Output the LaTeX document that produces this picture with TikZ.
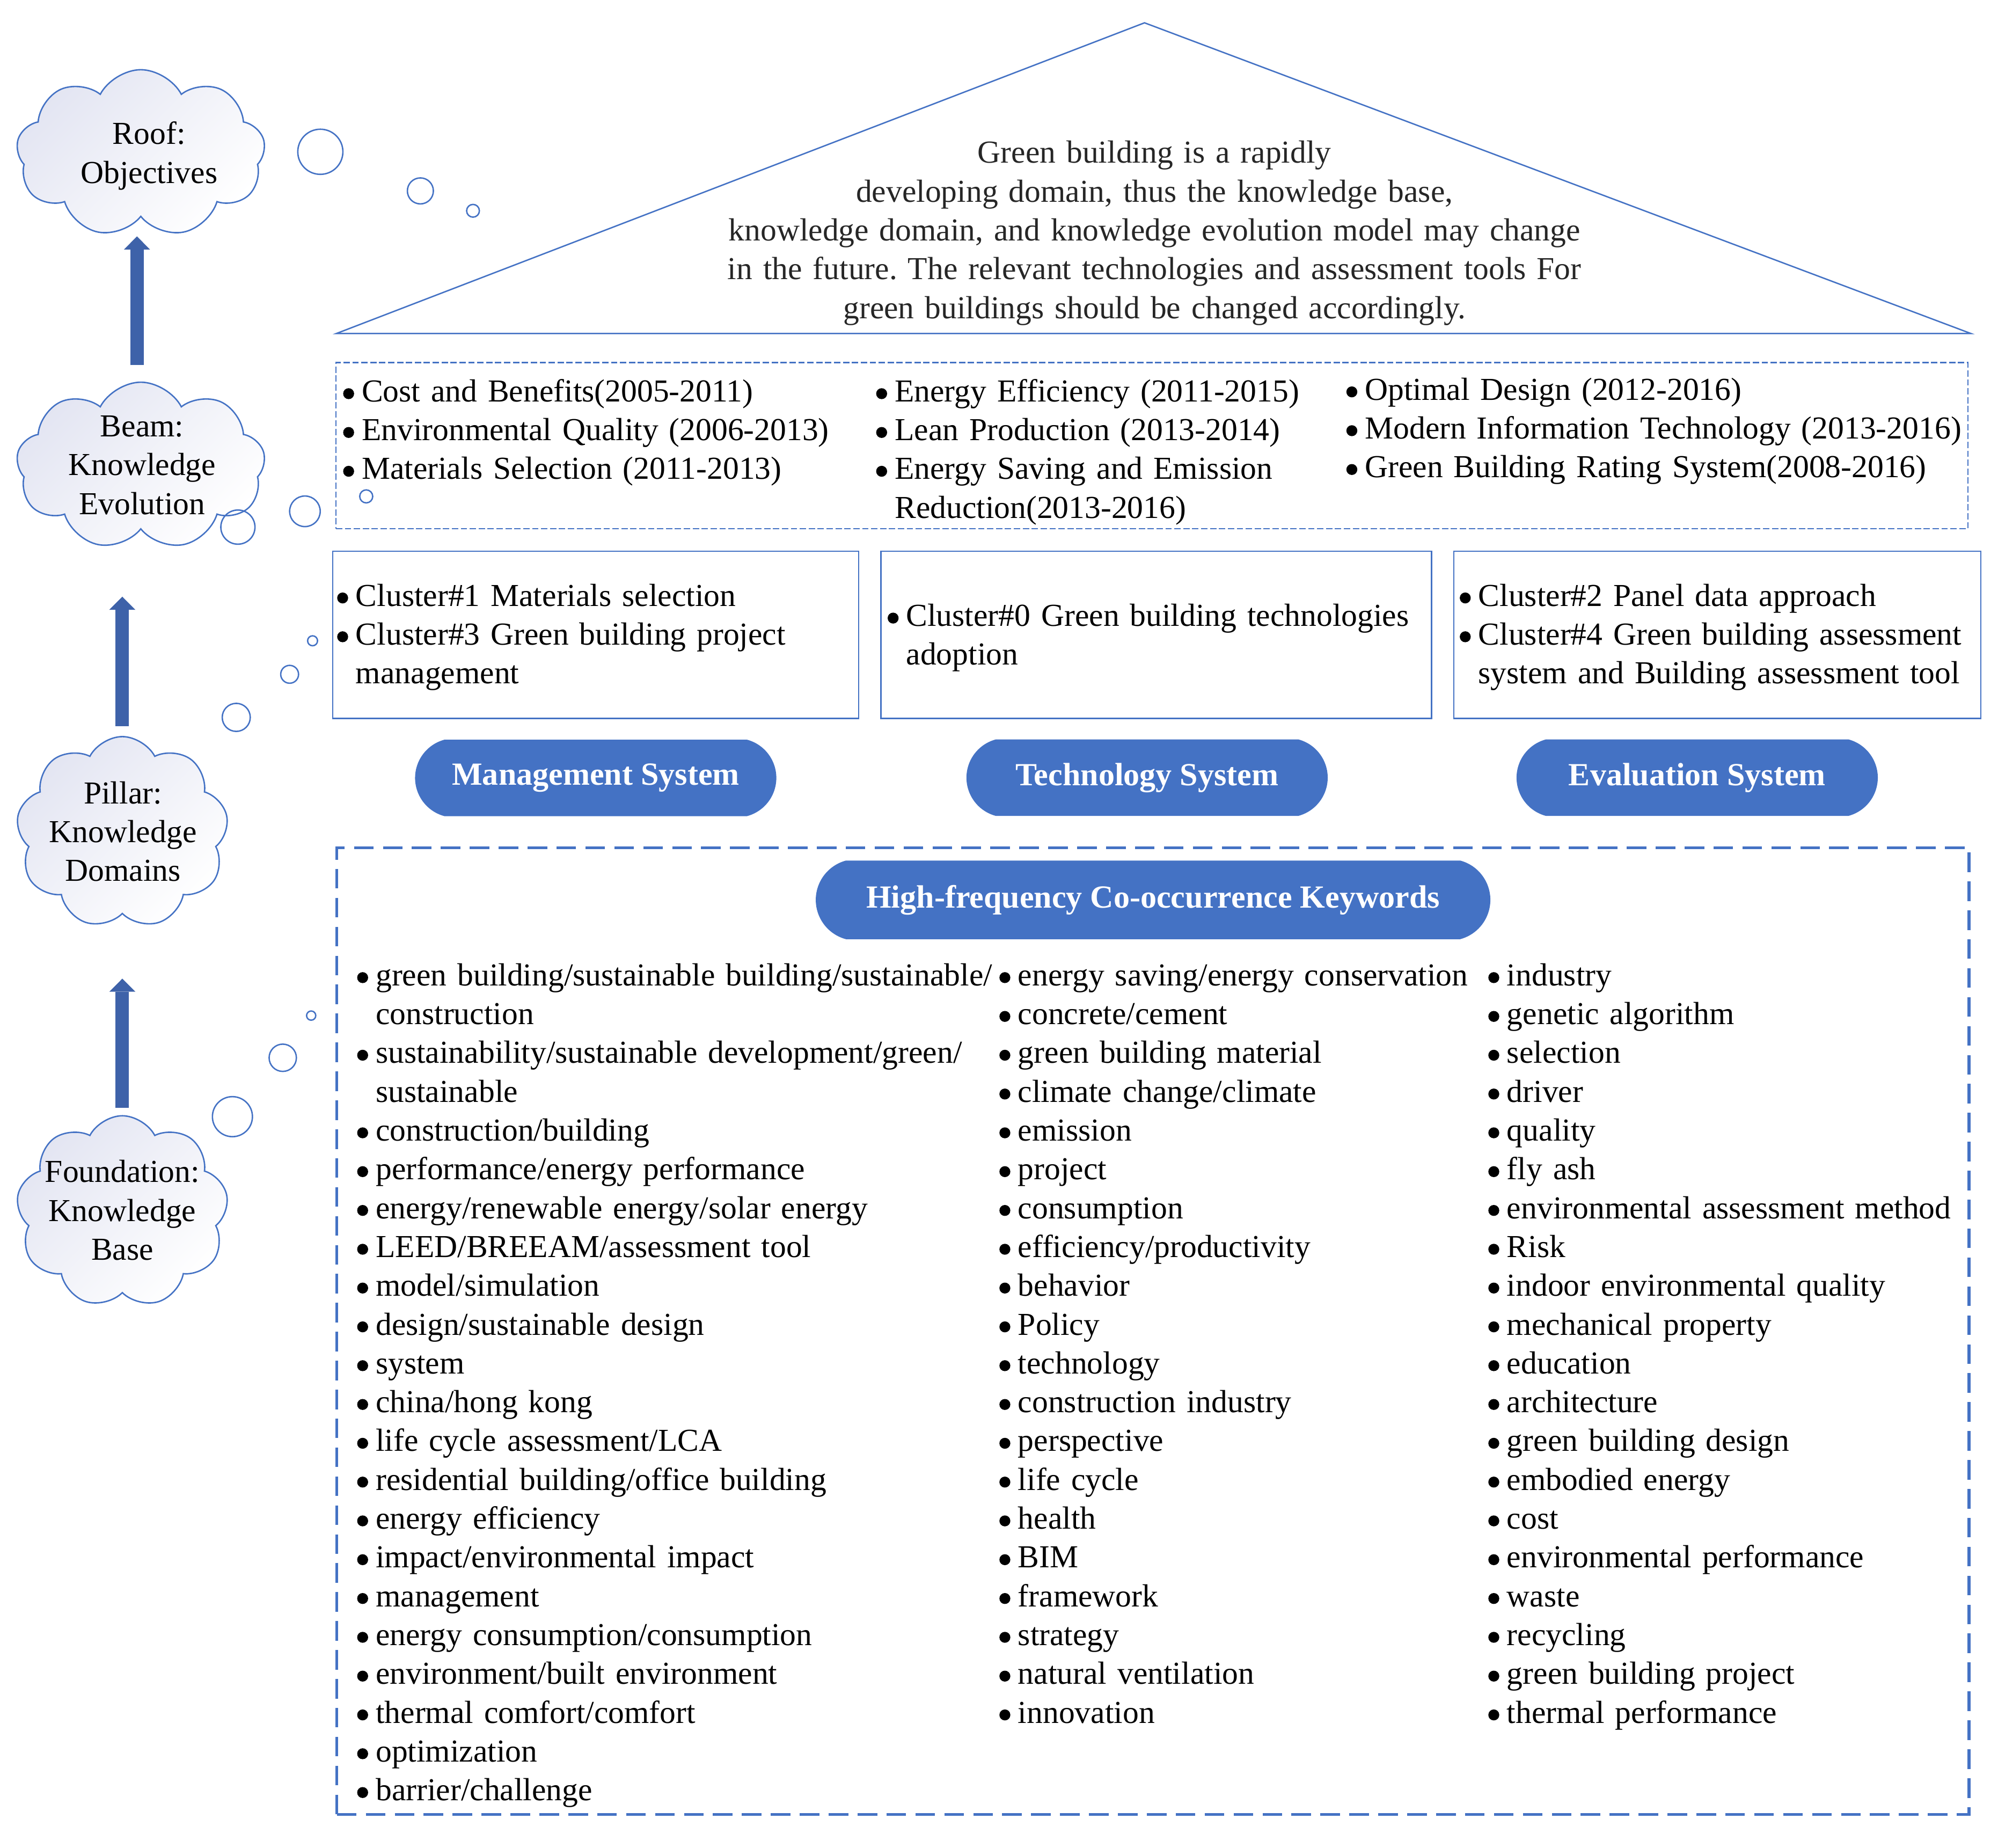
\documentclass[tikz,border=0pt]{standalone}
\usepackage{fontspec}
\setmainfont{Liberation Serif}
\usetikzlibrary{shapes.symbols, shapes.misc, positioning, arrows.meta}
\setlength{\parindent}{0pt}
\frenchspacing

\definecolor{wordblue}{HTML}{4472C4}
\definecolor{arrowblue}{HTML}{3E62A9}
\definecolor{cloudtop}{HTML}{E3E5F2}

\newcommand{\bl}{\makebox[14.6pt][l]{\tikz[baseline={(0pt,-6.3pt)}]\fill (4.3pt,0pt) circle (4.3pt);}}
\newcommand{\ind}{\hspace*{14.6pt}}

\tikzset{
	thought/.style={cloud, cloud puffs=9, cloud puff arc=125, cloud ignores aspect, draw=wordblue, line width=1.1pt, top color=cloudtop, bottom color=white, shading angle=45, inner sep=0pt},
	thoughttext/.style={anchor=base, align=center, text width=150pt, inner sep=0pt},
	bubble/.style={draw=wordblue, line width=1.1pt},
	uparrow/.style={-{Triangle[width=20.5pt,length=10.3pt,line width=0pt]}, line width=10.5pt, draw=arrowblue},
	beamdash/.style={draw=wordblue, line width=1pt, dash pattern=on 5pt off 2pt, inner sep=0pt},
	kwdash/.style={draw=wordblue, line width=2.25pt, dash pattern=on 15.4pt off 7.3pt, inner sep=0pt},
	clusterbox/.style={draw=wordblue, line width=1.1pt, minimum height=131.1pt, inner sep=0pt},
	pill/.style={rounded rectangle, rounded rectangle arc length=150, fill=wordblue, text=white, font=\fontsize{25.3}{30.45}\selectfont\bfseries, minimum height=60pt, inner sep=0pt},
	items/.style={anchor=base west, align=left, text width=560pt, inner sep=0pt},
}

\begin{document}
\begin{tikzpicture}[x=1pt, y=-1pt, node distance=3cm, on grid, font=\fontsize{25.1}{30.45}\selectfont]
	\useasboundingbox (0,0) rectangle (1568,1450);

	\draw[wordblue, line width=1.1pt] (264,261.7) -- (898.2,17.9) -- (1546.7,261.7) -- cycle;
	\node[anchor=base, align=center, text width=700pt, inner sep=0pt, text=black!85] (goal) at (906,128)
		{Green building is a rapidly\\ developing domain, thus the knowledge base,\\ knowledge domain, and knowledge evolution model may change\\ in the future. The relevant technologies and assessment tools For\\ green buildings should be changed accordingly.};

	\node[thought, minimum width=195.3pt, minimum height=131.4pt] (roof) at (110.5,120.4) {};
	\node[thought, minimum width=195.3pt, minimum height=131.4pt] (beam) [below=245.2pt of roof] {};
	\node[thought, minimum width=166.3pt, minimum height=150.4pt] (pillar) [below left=287.6pt and 14.5pt of beam] {};
	\node[thought, minimum width=166.3pt, minimum height=150.4pt] (base) [below=297.5pt of pillar] {};
	\node[thoughttext] (roofl) at (117,113.2) {Roof:\\ Objectives};
	\node[thoughttext] (beaml) at (111.5,342.7) {Beam:\\ Knowledge\\ Evolution};
	\node[thoughttext] (pillarl) at (96.5,630.6) {Pillar:\\ Knowledge\\ Domains};
	\node[thoughttext] (basel) at (96,927.7) {Foundation:\\ Knowledge\\ Base};

	\draw[bubble] (251.4,119.1) circle (17.7pt);
	\draw[bubble] (329.9,149.8) circle (10.2pt);
	\draw[bubble] (371.2,165.4) circle (5pt);
	\draw[bubble] (186.7,413.6) circle (13.4pt);
	\draw[bubble] (239.3,401.2) circle (12pt);
	\draw[bubble] (287.4,389.5) circle (5.1pt);
	\draw[bubble] (245.3,502.8) circle (3.9pt);
	\draw[bubble] (227.3,529.1) circle (7pt);
	\draw[bubble] (185.4,562.9) circle (11pt);
	\draw[bubble] (244.2,796.9) circle (3.6pt);
	\draw[bubble] (221.9,830) circle (10.7pt);
	\draw[bubble] (182.4,876.2) circle (15.7pt);

	\node[beamdash, minimum width=1280.8pt, minimum height=130.3pt] (beambox) at (904,349.65) {};
	\node[items] (ev1) at (269.1,315.2) {\bl Cost and Benefits(2005-2011)\\ \bl Environmental Quality (2006-2013)\\ \bl Materials Selection (2011-2013)};
	\node[items] (ev2) at (687.4,315.2) {\bl Energy Efficiency (2011-2015)\\ \bl Lean Production (2013-2014)\\ \bl Energy Saving and Emission\\ \ind Reduction(2013-2016)};
	\node[items] (ev3) at (1056.4,313.8) {\bl Optimal Design (2012-2016)\\ \bl Modern Information Technology (2013-2016)\\ \bl Green Building Rating System(2008-2016)};

	\node[clusterbox, minimum width=412.7pt] (cl1) at (467.45,498.15) {};
	\node[clusterbox, minimum width=432pt] (cl2) at (907.4,498.15) {};
	\node[clusterbox, minimum width=413.5pt] (cl3) at (1347.75,498.15) {};
	\node[items] (cl1t) at (264.4,475.5) {\bl Cluster\#1 Materials selection\\ \bl Cluster\#3 Green building project\\ \ind management};
	\node[items] (cl2t) at (696.4,491.3) {\bl Cluster\#0 Green building technologies\\ \ind adoption};
	\node[items] (cl3t) at (1145.4,475.5) {\bl Cluster\#2 Panel data approach\\ \bl Cluster\#4 Green building assessment\\ \ind system and Building assessment tool};

	\node[pill, minimum width=283.5pt] (mgmt) at (467.5,610.4) {Management System};
	\node[pill, minimum width=283.5pt] (tech) at (900.2,610.2) {Technology System};
	\node[pill, minimum width=283.5pt] (eval) at (1331.9,610.2) {Evaluation System};

	\node[kwdash, minimum width=1280.9pt, minimum height=758.5pt] (kwbox) at (904.85,1044.45) {};
	\node[pill, minimum width=529.4pt, minimum height=61.7pt] (kwhead) at (904.9,706.1) {High-frequency Co-occurrence Keywords};
	\node[items] (kw1) at (280.1,773.4) {\bl green building/sustainable building/sustainable/\\ \ind construction\\ \bl sustainability/sustainable development/green/\\ \ind sustainable\\ \bl construction/building\\ \bl performance/energy performance\\ \bl energy/renewable energy/solar energy\\ \bl LEED/BREEAM/assessment tool\\ \bl model/simulation\\ \bl design/sustainable design\\ \bl system\\ \bl china/hong kong\\ \bl life cycle assessment/LCA\\ \bl residential building/office building\\ \bl energy efficiency\\ \bl impact/environmental impact\\ \bl management\\ \bl energy consumption/consumption\\ \bl environment/built environment\\ \bl thermal comfort/comfort\\ \bl optimization\\ \bl barrier/challenge};
	\node[items] (kw2) at (784.1,773.4) {\bl energy saving/energy conservation\\ \bl concrete/cement\\ \bl green building material\\ \bl climate change/climate\\ \bl emission\\ \bl project\\ \bl consumption\\ \bl efficiency/productivity\\ \bl behavior\\ \bl Policy\\ \bl technology\\ \bl construction industry\\ \bl perspective\\ \bl life cycle\\ \bl health\\ \bl BIM\\ \bl framework\\ \bl strategy\\ \bl natural ventilation\\ \bl innovation};
	\node[items] (kw3) at (1167.8,773.4) {\bl industry\\ \bl genetic algorithm\\ \bl selection\\ \bl driver\\ \bl quality\\ \bl fly ash\\ \bl environmental assessment method\\ \bl Risk\\ \bl indoor environmental quality\\ \bl mechanical property\\ \bl education\\ \bl architecture\\ \bl green building design\\ \bl embodied energy\\ \bl cost\\ \bl environmental performance\\ \bl waste\\ \bl recycling\\ \bl green building project\\ \bl thermal performance};

	\path ([xshift=-3pt]beam.center) edge [uparrow, shorten <=79pt, shorten >=65.1pt] ([xshift=-3pt]roof.center)
		(pillar.center) edge [uparrow, shorten <=83.5pt, shorten >=102.6pt] (pillar.center |- beam.center)
		(base.center) edge [uparrow, shorten <=81.3pt, shorten >=114.7pt] (pillar.center);
\end{tikzpicture}
\end{document}
